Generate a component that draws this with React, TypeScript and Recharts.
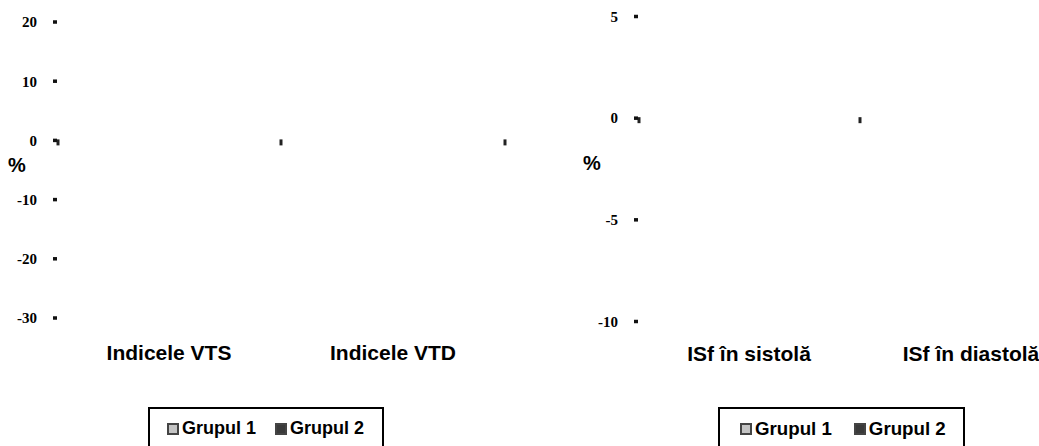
import { Bar, BarChart, Legend, ReferenceLine, XAxis, YAxis } from 'recharts';

// left panel: volume indices
const leftCategories = ['Indicele VTS', 'Indicele VTD'];
const leftTicks = [20, 10, 0, -10, -20, -30];
// right panel: sphericity index
const rightCategories = ['ISf în sistolă', 'ISf în diastolă'];
const rightTicks = [5, 0, -5, -10];

// no bars are visible in the source picture, so the values stay empty
const leftGroup1: (number | null)[] = [null, null];
const leftGroup2: (number | null)[] = [null, null];
const rightGroup1: (number | null)[] = [null, null];
const rightGroup2: (number | null)[] = [null, null];

const SANS = '"Liberation Sans", Arial, sans-serif';
const SERIF = '"Liberation Serif", "Times New Roman", serif';

interface PanelProps {
  categories: string[];
  g1: (number | null)[];
  g2: (number | null)[];
  ticks: number[];
  left: number;
  width: number;
  margin: { top: number; right: number; bottom: number; left: number };
  yAxisWidth: number;
  xTickMargin: number;
  percentOffset: number;
  percentDy: number;
  legendLeft: number;
  legendWidth: number;
  legendFont: number;
  legendPad: number;
  legendGap: number;
}

// little category-boundary marks hanging off the zero line
const ZeroMarks = (n: number) => (props: any) => {
  const { x1, x2, y1 } = props;
  const step = (x2 - x1) / n;
  const marks = [];
  for (let i = 0; i <= n; i++) {
    const x = x1 + i * step + (i === 0 ? 1 : 0);
    marks.push(
      <line key={i} x1={x} x2={x} y1={y1 - 1} y2={y1 + 5} stroke="#222" strokeWidth={3} />
    );
  }
  return <g>{marks}</g>;
};

const LegendBox = ({ payload, font, pad, gap }: any) => (
  <div
    style={{
      border: '2.5px solid #000',
      boxSizing: 'border-box',
      height: 60,
      padding: `9px 0 0 ${pad}px`,
      display: 'flex',
      alignItems: 'flex-start',
      background: '#fff',
      fontFamily: SANS,
      fontWeight: 700,
      fontSize: font,
      lineHeight: '21px',
      color: '#000',
      whiteSpace: 'nowrap',
    }}
  >
    {(payload || []).map((entry: any, i: number) => (
      <div key={i} style={{ display: 'flex', alignItems: 'center', marginRight: gap, flexShrink: 0 }}>
        <span
          style={{
            display: 'inline-block',
            width: 12,
            height: 12,
            boxSizing: 'border-box',
            border: '2px solid #444',
            background: entry.color,
            marginRight: 3,
          }}
        />
        {entry.value}
      </div>
    ))}
  </div>
);

const Panel = (p: PanelProps) => {
  const data = p.categories.map((name, i) => ({ name, g1: p.g1[i], g2: p.g2[i] }));
  return (
    <div style={{ position: 'absolute', left: p.left, top: 0 }}>
      <BarChart width={p.width} height={446} data={data} margin={p.margin} barCategoryGap="30%">
        <XAxis
          dataKey="name"
          height={40}
          axisLine={false}
          tickLine={false}
          tickSize={0}
          tickMargin={p.xTickMargin}
          interval={0}
          tick={{ fill: '#000', fontFamily: SANS, fontWeight: 700, fontSize: 21 }}
        />
        <YAxis
          type="number"
          width={p.yAxisWidth}
          domain={[p.ticks[p.ticks.length - 1], p.ticks[0]]}
          allowDataOverflow
          ticks={p.ticks}
          interval={0}
          axisLine={false}
          tickSize={4}
          tickMargin={16}
          tickLine={{ stroke: '#111', strokeWidth: 3.5 }}
          tick={{ fill: '#000', fontFamily: SERIF, fontWeight: 700, fontSize: 15 }}
          label={{
            value: '%',
            position: 'insideLeft',
            offset: p.percentOffset,
            dy: p.percentDy,
            fill: '#000',
            fontFamily: SANS,
            fontWeight: 700,
            fontSize: 20,
          }}
        />
        <ReferenceLine y={0} shape={ZeroMarks(p.categories.length)} />
        <Bar dataKey="g1" name="Grupul 1" fill="#c4c4c4" stroke="#333" isAnimationActive={false} />
        <Bar dataKey="g2" name="Grupul 2" fill="#3a3a3a" stroke="#111" isAnimationActive={false} />
        <Legend
          layout="horizontal"
          verticalAlign="middle"
          align="center"
          wrapperStyle={{ left: p.legendLeft, top: 407, width: p.legendWidth }}
          content={(props: any) => (
            <LegendBox payload={props.payload} font={p.legendFont} pad={p.legendPad} gap={p.legendGap} />
          )}
        />
      </BarChart>
    </div>
  );
};

export default function App() {
  return (
    <div
      style={{
        position: 'absolute',
        left: 0,
        top: 0,
        width: 1039,
        height: 446,
        overflow: 'hidden',
        background: '#fff',
      }}
    >
      <Panel
        categories={leftCategories}
        g1={leftGroup1}
        g2={leftGroup2}
        ticks={leftTicks}
        left={0}
        width={530}
        margin={{ top: 22, right: 25, bottom: 88, left: 0 }}
        yAxisWidth={57}
        xTickMargin={27}
        percentOffset={8}
        percentDy={-5}
        legendLeft={148}
        legendWidth={236}
        legendFont={18}
        legendPad={17}
        legendGap={19}
      />
      <Panel
        categories={rightCategories}
        g1={rightGroup1}
        g2={rightGroup2}
        ticks={rightTicks}
        left={560}
        width={540}
        margin={{ top: 16.5, right: 18, bottom: 84.5, left: 0 }}
        yAxisWidth={78}
        xTickMargin={25}
        percentOffset={23}
        percentDy={-6}
        legendLeft={158}
        legendWidth={247}
        legendFont={18.7}
        legendPad={20}
        legendGap={22}
      />
    </div>
  );
}
